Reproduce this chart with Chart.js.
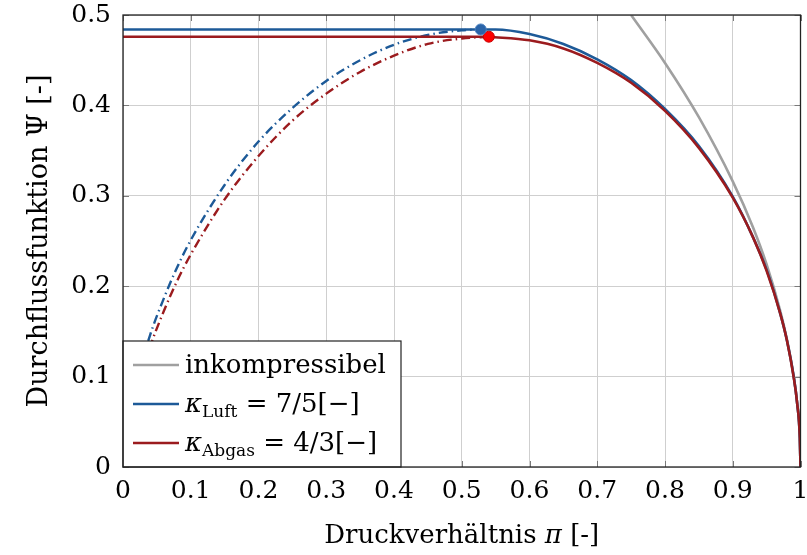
<!DOCTYPE html>
<html>
<head>
<meta charset="utf-8">
<script src="https://cdn.jsdelivr.net/npm/chart.js@4.4.1/dist/chart.umd.min.js"></script>
<style>
  html, body { margin: 0; padding: 0; background: #fff; }
</style>
</head>
<body>
<canvas id="flow-chart" width="807" height="555"></canvas>
<script>
// tick positions
const xTicks = [0, 0.1, 0.2, 0.3, 0.4, 0.5, 0.6, 0.7, 0.8, 0.9, 1];
const yTicks = [0, 0.1, 0.2, 0.3, 0.4, 0.5];

// incompressible
const incompPi  = [0.75, 0.8, 0.85, 0.9, 0.93, 0.95, 0.97, 0.98, 0.99, 0.995, 0.999, 1];
const incompPsi = [0.5, 0.447, 0.387, 0.316, 0.265, 0.224, 0.173, 0.141, 0.1, 0.071, 0.032, 0];

// kappa = 7/5 (air)
const luftPiSub  = [0.01, 0.02, 0.04, 0.06, 0.08, 0.1, 0.15, 0.2, 0.25, 0.3, 0.35, 0.4, 0.45, 0.5, 0.528];
const luftPsiSub = [0.060, 0.094, 0.146, 0.186, 0.221, 0.251, 0.312, 0.360, 0.397, 0.427, 0.450, 0.467, 0.478, 0.483, 0.484];
const luftPiSup  = [0.528, 0.55, 0.6, 0.65, 0.7, 0.75, 0.8, 0.85, 0.9, 0.93, 0.95, 0.97, 0.98, 0.99, 0.995, 0.999, 1];
const luftPsiSup = [0.484, 0.484, 0.479, 0.468, 0.451, 0.428, 0.396, 0.355, 0.299, 0.254, 0.218, 0.170, 0.140, 0.100, 0.071, 0.032, 0];
const luftCrit   = [0.528, 0.484];

// kappa = 4/3 (exhaust gas)
const abgasPiSub  = [0.01, 0.02, 0.04, 0.06, 0.08, 0.1, 0.15, 0.2, 0.25, 0.3, 0.35, 0.4, 0.45, 0.5, 0.54];
const abgasPsiSub = [0.052, 0.084, 0.133, 0.172, 0.206, 0.235, 0.296, 0.344, 0.383, 0.413, 0.437, 0.455, 0.468, 0.474, 0.476];
const abgasPiSup  = [0.54, 0.6, 0.65, 0.7, 0.75, 0.8, 0.85, 0.9, 0.93, 0.95, 0.97, 0.98, 0.99, 0.995, 0.999, 1];
const abgasPsiSup = [0.476, 0.472, 0.463, 0.447, 0.425, 0.394, 0.353, 0.298, 0.254, 0.217, 0.170, 0.140, 0.099, 0.071, 0.032, 0];
const abgasCrit   = [0.540, 0.476];

const BLUE = '#1d5a98';
const RED = '#9b1b1e';
const GRAY = '#a0a0a0';
const SERIF = '"DejaVu Serif", serif';

function pts(xs, ys) {
  return xs.map((x, i) => ({ x: x, y: ys[i] }));
}

function solidLine(data, color, order) {
  return {
    data: data, borderColor: color, borderWidth: 2.6, pointRadius: 0,
    showLine: true, fill: false, cubicInterpolationMode: 'monotone', order: order
  };
}

function dashDot(data, color, order) {
  return {
    data: data, borderColor: color, borderWidth: 2.4, pointRadius: 0,
    showLine: true, fill: false, cubicInterpolationMode: 'monotone',
    borderDash: [9, 4, 1.5, 4], order: order
  };
}

function marker(p, fill, edge) {
  return {
    data: [{ x: p[0], y: p[1] }], showLine: false, pointRadius: 5.5,
    pointBackgroundColor: fill, pointBorderColor: edge, pointBorderWidth: 1, order: 0
  };
}

// draw text pieces [text, italic, size, dy]
function drawPieces(ctx, pieces, x, y, align) {
  const widths = pieces.map(p => {
    ctx.font = (p[1] ? 'italic ' : '') + p[2] + 'px ' + SERIF;
    return ctx.measureText(p[0]).width;
  });
  const total = widths.reduce((a, b) => a + b, 0);
  let cx = align === 'center' ? x - total / 2 : x;
  pieces.forEach((p, i) => {
    ctx.font = (p[1] ? 'italic ' : '') + p[2] + 'px ' + SERIF;
    ctx.fillText(p[0], cx, y + (p[3] || 0));
    cx += widths[i];
  });
}

const decor = {
  id: 'decor',
  afterDraw(chart) {
    const ctx = chart.ctx;
    const { left, top, right, bottom } = chart.chartArea;
    const sx = chart.scales.x, sy = chart.scales.y;
    ctx.save();

    // inward ticks on all four sides
    ctx.strokeStyle = '#7a7a7a';
    ctx.lineWidth = 1;
    ctx.beginPath();
    xTicks.forEach(v => {
      const px = Math.round(sx.getPixelForValue(v)) + 0.5;
      ctx.moveTo(px, bottom); ctx.lineTo(px, bottom - 6);
      ctx.moveTo(px, top); ctx.lineTo(px, top + 6);
    });
    yTicks.forEach(v => {
      const py = Math.round(sy.getPixelForValue(v)) + 0.5;
      ctx.moveTo(left, py); ctx.lineTo(left + 6, py);
      ctx.moveTo(right, py); ctx.lineTo(right - 6, py);
    });
    ctx.stroke();

    // legend box
    const lx = left, ly = 341, lw = 278, lh = bottom - ly;
    ctx.fillStyle = '#fff';
    ctx.fillRect(lx, ly, lw, lh);
    ctx.strokeStyle = '#222';
    ctx.lineWidth = 1.2;
    ctx.strokeRect(lx, ly, lw, lh);

    const rows = [
      { color: GRAY, y: 365, pieces: [['inkompressibel', false, 26]] },
      { color: BLUE, y: 404, pieces: [['κ', true, 26], ['Luft', false, 17, 5], [' = 7/5[−]', false, 26]] },
      { color: RED, y: 443, pieces: [['κ', true, 26], ['Abgas', false, 17, 5], [' = 4/3[−]', false, 26]] }
    ];
    rows.forEach(r => {
      ctx.strokeStyle = r.color;
      ctx.lineWidth = 2.6;
      ctx.beginPath();
      ctx.moveTo(lx + 10, r.y); ctx.lineTo(lx + 56, r.y);
      ctx.stroke();
      ctx.fillStyle = '#000';
      ctx.textBaseline = 'alphabetic';
      ctx.textAlign = 'left';
      drawPieces(ctx, r.pieces, lx + 62, r.y + 8, 'left');
    });

    // frame
    ctx.strokeStyle = '#222';
    ctx.lineWidth = 1.3;
    ctx.strokeRect(left, top, right - left, bottom - top);

    // axis titles
    ctx.fillStyle = '#000';
    ctx.textAlign = 'left';
    ctx.textBaseline = 'alphabetic';
    drawPieces(ctx, [['Druckverhältnis ', false, 26], ['π', true, 26], [' [-]', false, 26]],
      (left + right) / 2, 543, 'center');

    ctx.translate(47, (top + bottom) / 2);
    ctx.rotate(-Math.PI / 2);
    drawPieces(ctx, [['Durchflussfunktion ', false, 27], ['Ψ', false, 27], [' [-]', false, 27]],
      0, 0, 'center');
    ctx.restore();
  }
};

new Chart(document.getElementById('flow-chart').getContext('2d'), {
  type: 'scatter',
  data: {
    datasets: [
      marker(luftCrit, '#2a64a8', '#4a80bf'),
      marker(abgasCrit, '#ff0000', '#c80000'),
      solidLine(pts(abgasPiSup, abgasPsiSup), RED, 1),
      solidLine(pts([0, abgasCrit[0]], [abgasCrit[1], abgasCrit[1]]), RED, 1),
      dashDot(pts(abgasPiSub, abgasPsiSub), RED, 1),
      solidLine(pts(luftPiSup, luftPsiSup), BLUE, 2),
      solidLine(pts([0, luftCrit[0]], [luftCrit[1], luftCrit[1]]), BLUE, 2),
      dashDot(pts(luftPiSub, luftPsiSub), BLUE, 2),
      solidLine(pts(incompPi, incompPsi), GRAY, 3)
    ]
  },
  options: {
    responsive: false,
    animation: false,
    layout: { padding: { left: 0, top: 15, right: 4, bottom: 0 } },
    plugins: { legend: { display: false }, tooltip: { enabled: false } },
    scales: {
      x: {
        type: 'linear', min: 0, max: 1,
        afterBuildTicks: s => { s.ticks = xTicks.map(v => ({ value: v })); },
        ticks: {
          color: '#000', padding: 9, maxRotation: 0,
          font: { family: SERIF, size: 25 },
          callback: v => String(Math.round(v * 10) / 10)
        },
        grid: { color: '#cfcfcf', lineWidth: 1, drawTicks: false },
        border: { display: false },
        afterFit: s => { s.height = 88; s.paddingLeft = 0; s.paddingRight = 0; }
      },
      y: {
        type: 'linear', min: 0, max: 0.5,
        afterBuildTicks: s => { s.ticks = yTicks.map(v => ({ value: v })); },
        ticks: {
          color: '#000', padding: 12,
          font: { family: SERIF, size: 25 },
          callback: v => String(Math.round(v * 10) / 10)
        },
        grid: { color: '#cfcfcf', lineWidth: 1, drawTicks: false },
        border: { display: false },
        afterFit: s => { s.width = 123; s.paddingTop = 0; s.paddingBottom = 0; }
      }
    }
  },
  plugins: [decor]
});
</script>
</body>
</html>
